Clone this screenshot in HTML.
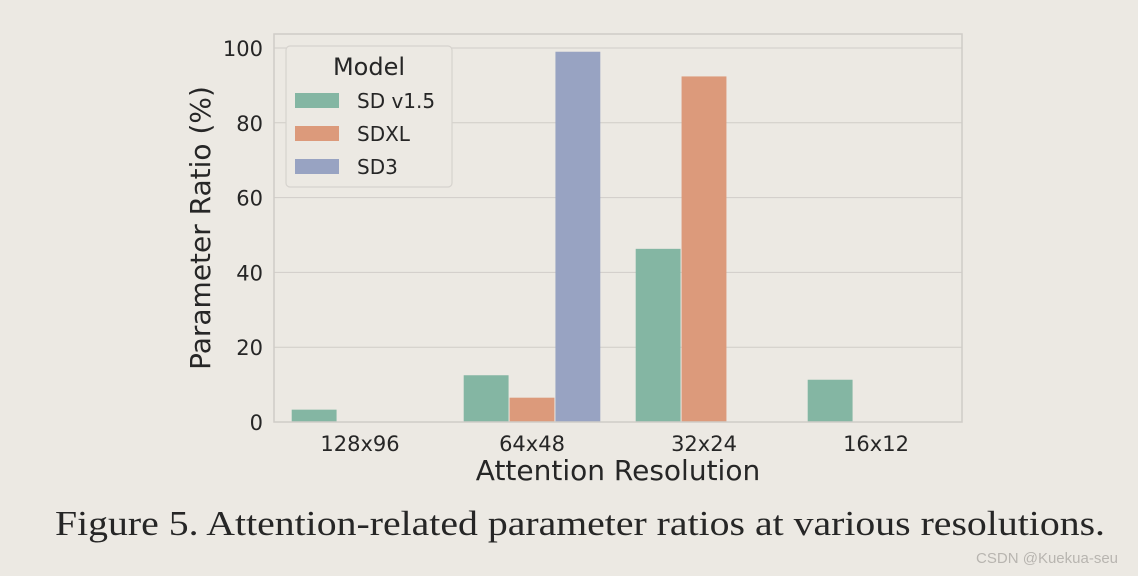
<!DOCTYPE html>
<html><head><meta charset="utf-8"><style>
html,body{margin:0;padding:0;background:#ece9e3;width:1138px;height:576px;overflow:hidden}
svg{display:block}
text{font-family:"DejaVu Sans","Liberation Sans",sans-serif;fill:#262626}
</style></head><body>
<svg id="chart" width="1138" height="576"></svg>
<script>
const categories=["128x96","64x48","32x24","16x12"];
const seriesNames=["SD v1.5","SDXL","SD3"];
const sdv15=[3.3,12.5,46.3,11.3];
const sdxl=[0,6.5,92.4,0];
const sd3=[0,99,0,0];
const yTicks=[0,20,40,60,80,100];
const colors=["#84b6a3","#dc9a7b","#98a3c2"];
const series=[sdv15,sdxl,sd3];
const NS="http://www.w3.org/2000/svg";
const svg=document.getElementById('chart');
const L=274,R=962,T=34,B=422;
const y=v=>B-(v/100)*(B-48);
const gw=(R-L)/categories.length;
const xc=i=>L+gw*(i+0.5);
const bw=gw*0.8/series.length;
function mk(t,a,txt){const e=document.createElementNS(NS,t);for(const k in a)e.setAttribute(k,a[k]);if(txt!==undefined)e.textContent=txt;svg.appendChild(e);return e;}
yTicks.forEach(v=>{
 const g=mk('line',{x1:L,x2:R,y1:y(v),y2:y(v),stroke:'#d0cdc8','stroke-width':1});
 
 
 const t=mk('text',{x:L-11,y:y(v)+8,'text-anchor':'end','font-size':21},v);
 
 
});
series.forEach((s,si)=>{
 s.forEach((v,i)=>{
  if(v<=0)return;
  const x=xc(i)-gw*0.4+si*bw;
  const r=mk('rect',{x:x+0.5,y:y(v),width:bw-1,height:B-y(v),fill:colors[si]});
  
  
 });
});
const f=mk('rect',{x:L,y:T,width:R-L,height:B-T,fill:'none',stroke:'#cfccc7','stroke-width':1.5});


categories.forEach((c,i)=>{
 const t=mk('text',{x:xc(i),y:B+29,'text-anchor':'middle','font-size':21},c);
 
 
});
const xt=mk('text',{x:(L+R)/2,y:480,'text-anchor':'middle','font-size':28},'Attention Resolution');


const yt=mk('text',{x:0,y:0,'text-anchor':'middle','font-size':28,transform:'translate(210,228) rotate(-90)'},'Parameter Ratio (%)');


const lb=mk('rect',{x:286,y:46,width:166,height:141,rx:4,fill:'#ece9e3',stroke:'#d6d3ce','stroke-width':1.2});


const lt=mk('text',{x:369,y:75,'text-anchor':'middle','font-size':24},'Model');


seriesNames.forEach((n,i)=>{
 const yy=93+i*33;
 const sw=mk('rect',{x:295,y:yy,width:44,height:15,fill:colors[i]});
 
 
 const tx=mk('text',{x:357,y:yy+15,'font-size':20},n);
 
 
});
const cap=mk('text',{x:55,y:535,'font-size':35,textLength:1050,lengthAdjust:'spacingAndGlyphs',style:'font-family:"Liberation Serif",serif'},'Figure 5. Attention-related parameter ratios at various resolutions.');


const wm=mk('text',{x:1118,y:563,'text-anchor':'end','font-size':15,style:'fill:#b8b5b0;font-family:"Liberation Sans",sans-serif'},'CSDN @Kuekua-seu');


</script>
</body></html>
